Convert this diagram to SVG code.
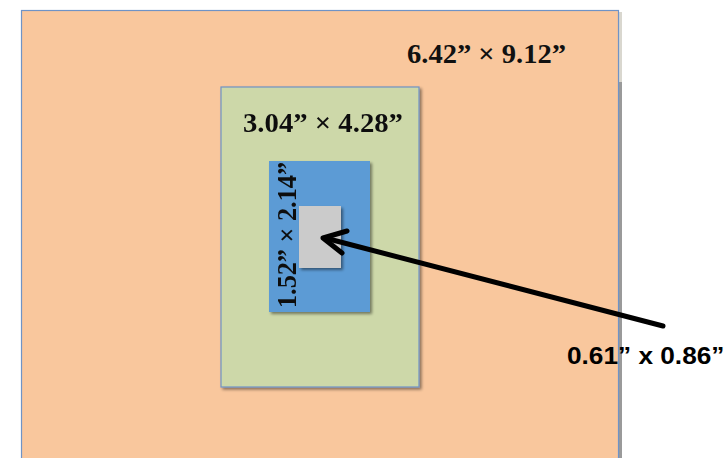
<svg xmlns="http://www.w3.org/2000/svg" width="724" height="458" viewBox="0 0 724 458">
<style>
.lbl{font-family:"Liberation Serif","Times New Roman",serif;font-weight:bold;font-size:28px;fill:#111}
.lbl2{font-family:"Liberation Sans",Arial,sans-serif;font-weight:bold;font-size:23px;fill:#000}
.box{stroke:#6f93c6;stroke-width:1.2}
</style>
<defs>
<filter id="sh" x="-10%" y="-10%" width="130%" height="130%">
<feGaussianBlur in="SourceAlpha" stdDeviation="1.5"/>
<feOffset dx="1.5" dy="2" result="b"/>
<feComponentTransfer><feFuncA type="linear" slope="0.45"/></feComponentTransfer>
<feMerge><feMergeNode/><feMergeNode in="SourceGraphic"/></feMerge>
</filter>
</defs>
<rect width="724" height="458" fill="#ffffff"/>
<g id="page">
<rect x="619" y="12" width="3" height="446" fill="#9a9a9a"/>
<rect x="619" y="12" width="3" height="70" fill="#d9d7cf"/>
<rect class="box" x="21.5" y="10.5" width="597" height="460" fill="#f9c79d"/>
<text class="lbl" x="407" y="63" textLength="159" lengthAdjust="spacingAndGlyphs">6.42” × 9.12”</text>
</g>
<g id="card" filter="url(#sh)">
<rect class="box" x="221" y="87" width="198" height="300" fill="#cdd8a9"/>
<text class="lbl" x="243" y="132" textLength="160" lengthAdjust="spacingAndGlyphs">3.04” × 4.28”</text>
</g>
<g id="label" filter="url(#sh)">
<rect x="269" y="161" width="101" height="151" fill="#5b9bd5"/>
<text class="lbl" transform="translate(296 308) rotate(-90)" x="0" y="0" textLength="146" lengthAdjust="spacingAndGlyphs">1.52” × 2.14”</text>
</g>
<g id="chip" filter="url(#sh)">
<rect x="299" y="206" width="42" height="62" fill="#cbcbcb"/>
</g>
<g id="connectors" fill="none" stroke="#000" stroke-width="5" stroke-linecap="round" stroke-linejoin="round">
<line x1="663" y1="326" x2="325" y2="238"/>
<polyline points="347,231 323,238 342,253"/>
</g>
<text class="lbl2" transform="translate(567 364) scale(1.14 1)" x="0" y="0">0.61” x 0.86”</text>
</svg>
